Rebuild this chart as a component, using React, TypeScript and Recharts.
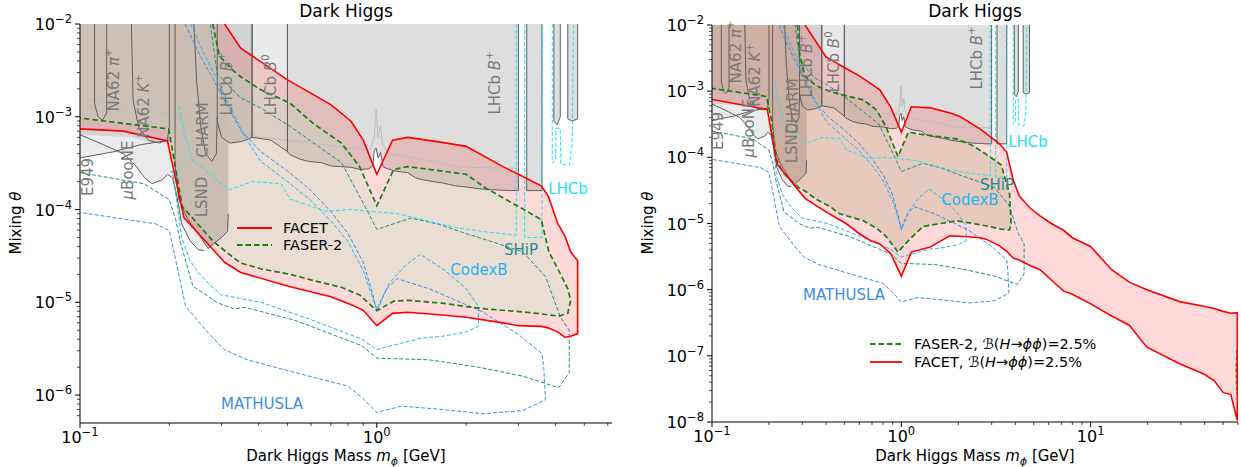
import React from "react";
import { ComposedChart, Area, Line, XAxis, YAxis } from "recharts";

type P = [number, number];
const TOP = 1e-2;
const FONT = "'DejaVu Sans', sans-serif";

// ---------- existing limits (grey), lower edge; each region runs to the top ----------
const LIGHT_X = [0.1, 0.125, 0.14, 0.155, 0.165, 0.175, 0.19, 0.197, 0.205, 0.212, 0.22, 0.235, 0.25, 0.262];
const LIGHT_LO = [3.6e-4, 4.1e-4, 4.0e-4, 2.9e-4, 2.2e-4, 1.9e-4, 2.1e-4, 2.4e-4, 2.2e-4, 1.4e-4, 7e-5, 4.6e-5, 3.7e-5, 3.6e-5];
const NA62_X = [0.1, 0.15, 0.175, 0.2, 0.209];
const NA62_LO = [6.4e-4, 6.0e-4, 5.2e-4, 5.6e-4, 6e-4];
const LSND_X = [0.209, 0.215, 0.23, 0.25, 0.27, 0.28, 0.3, 0.314, 0.316];
const LSND_LO = [3e-4, 1.3e-4, 8e-5, 5.5e-5, 3.8e-5, 4.2e-5, 5e-5, 5.8e-5, 9e-5];
const BLOBE_X = [0.29, 0.3, 0.32, 0.35, 0.38];
const BLOBE_LO = [9e-4, 6e-4, 5.2e-4, 5.4e-4, 6e-4];
const B0_X = [0.38, 0.44, 0.5];
const B0_LO = [6e-4, 5.6e-4, 4.2e-4];
const BPLUS_X = [0.5, 0.51, 0.55, 0.59, 0.65, 0.7, 0.76, 0.82, 0.88, 0.94, 0.97, 0.98, 0.995, 1.01, 1.03, 1.05, 1.07, 1.15, 1.27, 1.35, 1.42, 1.55, 1.66, 1.84, 2.0, 2.2, 2.38, 2.6, 2.8, 3.0];
const BPLUS_LO = [4.2e-4, 3.9e-4, 3.5e-4, 3.3e-4, 3.2e-4, 2.95e-4, 2.9e-4, 2.85e-4, 2.7e-4, 2.75e-4, 3.0e-4, 4.3e-4, 4.6e-4, 3.6e-4, 4.1e-4, 2.9e-4, 2.8e-4, 2.6e-4, 2.5e-4, 2.2e-4, 2.1e-4, 2.0e-4, 1.94e-4, 1.8e-4, 1.75e-4, 1.68e-4, 1.64e-4, 1.62e-4, 1.6e-4, 1.6e-4];
const S1_X = [3.2, 3.6];
const S1_LO = [1.6e-4, 1.6e-4];
const S2_X = [3.95, 4.05, 4.15];
const S2_LO = [9e-4, 8.2e-4, 1e-3];
const S3_X = [4.4, 4.55, 4.75];
const S3_LO = [9.5e-4, 9e-4, 9.5e-4];

// ---------- outlines on the grey ----------
const E949_LINE: P[] = [[0.1, 3.6e-4], [0.13, 4.2e-4], [0.16, 5.0e-4], [0.2, 5.6e-4]];
const UBOONE_LINE: P[] = [[0.1, 6.4e-4], [0.12, 5.0e-4], [0.14, 4.0e-4], [0.155, 2.9e-4], [0.165, 2.2e-4], [0.175, 1.9e-4], [0.19, 2.1e-4], [0.197, 2.4e-4], [0.205, 2.2e-4], [0.212, 1.4e-4], [0.22, 7e-5], [0.235, 4.6e-5], [0.25, 3.7e-5], [0.262, 3.6e-5]];
const NA62PI_LINE: P[] = [[0.112, 1e-2], [0.112, 1.4e-3], [0.115, 1e-3], [0.119, 9.2e-4], [0.123, 1.1e-3], [0.123, 1e-2]];
const NA62K_LINE: P[] = [[0.149, 1e-2], [0.151, 1.5e-3], [0.158, 7.5e-4], [0.17, 5.6e-4], [0.185, 5.2e-4], [0.197, 5.6e-4], [0.2, 8e-4], [0.2, 1e-2]];
const CHARM_LINE: P[] = [[0.242, 1e-2], [0.247, 2.5e-3], [0.255, 8e-4], [0.265, 4e-4], [0.278, 3.3e-4], [0.288, 4e-4], [0.29, 1e-3]];
const FAINT_LINE: P[] = [[0.1, 1.6e-3], [0.2, 1.05e-3], [0.395, 6.1e-4], [0.6, 5.2e-4], [0.82, 4.6e-4], [0.95, 4.4e-4], [0.98, 6e-4], [0.995, 1.2e-3], [1.01, 6e-4], [1.03, 8e-4], [1.045, 5e-4], [1.1, 4e-4], [1.27, 3.7e-4], [1.66, 3.2e-4], [1.84, 2.9e-4], [2.38, 2.8e-4], [2.95, 2.8e-4]];

// ---------- projected reaches (dashed) ----------
const SHIP: P[] = [[0.1, 2.5e-4], [0.164, 1.9e-4], [0.2, 1.28e-4], [0.21, 7.9e-5], [0.218, 4.4e-5], [0.24, 1.5e-5], [0.29, 9.9e-6], [0.33, 8.5e-6], [0.36, 8.8e-6], [0.53, 6.4e-6], [0.89, 3.4e-6], [1.0, 2.5e-6], [1.5, 2.4e-6], [2.2, 2.0e-6], [3.1, 1.6e-6], [4.1, 1.2e-6], [4.45, 1.75e-6], [4.45, 5e-6], [4.15, 7e-6], [3.7, 1.9e-5], [3.1, 3.5e-5], [2.5, 4.4e-5], [2.0, 5.5e-5], [1.6, 7e-5], [1.3, 8.1e-5], [1.0, 6.1e-5], [0.91, 1.1e-4], [0.76, 3.2e-4], [0.51, 7.9e-4], [0.407, 1.24e-3], [0.348, 1.6e-3], [0.29, 2.9e-3], [0.275, 1e-2]];
const CODEXB: P[] = [[0.236, 1e-2], [0.26, 5e-3], [0.29, 2.5e-3], [0.32, 1.3e-3], [0.36, 6e-4], [0.407, 3.3e-4], [0.5, 2e-4], [0.6, 1.25e-4], [0.7, 7.5e-5], [0.8, 4.5e-5], [0.9, 2.2e-5], [0.97, 1.1e-5], [1.0, 8.5e-6], [1.1, 1.6e-5], [1.25, 2.5e-5], [1.4, 3.3e-5], [1.7, 2.2e-5], [2.0, 1.4e-5], [2.2, 9e-6], [2.2, 5.5e-6], [2.0, 4.8e-6], [1.66, 4.3e-6], [1.4, 4.1e-6], [1.2, 3.6e-6], [1.0, 3.1e-6], [0.89, 4e-6], [0.6, 6.5e-6], [0.407, 1e-5], [0.3, 1.2e-5], [0.276, 1.5e-5], [0.25, 2.1e-5], [0.235, 2.8e-5], [0.22, 5e-5], [0.212, 1.2e-4], [0.205, 2.6e-4], [0.2, 2.5e-4]];
const MATHUSLA: P[] = [[0.226, 1e-2], [0.25, 5e-3], [0.28, 2.6e-3], [0.31, 1.4e-3], [0.35, 7e-4], [0.407, 4.2e-4], [0.5, 2.6e-4], [0.6, 1.6e-4], [0.7, 9.5e-5], [0.8, 5.5e-5], [0.9, 2.7e-5], [0.97, 1.2e-5], [1.0, 8e-6], [1.08, 1.4e-5], [1.17, 1.8e-5], [1.5, 1.4e-5], [2.27, 7.9e-6], [3.0, 4.5e-6], [3.6, 2.8e-6], [3.65, 2e-6], [3.7, 8.9e-7], [3.1, 6.8e-7], [2.27, 6.3e-7], [1.66, 7e-7], [1.21, 7.6e-7], [1.0, 6.5e-7], [0.89, 9.4e-7], [0.8, 1.25e-6], [0.53, 1.75e-6], [0.366, 2.4e-6], [0.306, 3.1e-6], [0.27, 4.7e-6], [0.227, 9e-6], [0.2, 5.9e-5], [0.18, 7e-5], [0.1, 9.3e-5]];
const LHCB_A: P[] = [[0.215, 1.3e-3], [0.225, 6.5e-4], [0.239, 3.4e-4], [0.26, 2.8e-4], [0.298, 1.9e-4], [0.32, 1.64e-4], [0.38, 2e-4], [0.476, 1.9e-4], [0.51, 1.3e-4], [0.67, 9.6e-5], [0.82, 1e-4], [0.97, 9.5e-5], [1.18, 9e-5], [1.42, 7.8e-5], [1.84, 6.4e-5], [2.38, 5.7e-5], [2.95, 5.3e-5], [2.95, 1e-2]];
const LHCB_B: P[] = [[3.15, 1e-2], [3.15, 5e-5], [3.6, 5e-5], [3.62, 1e-2]];
const LHCB_C: P[] = [[3.9, 1e-2], [3.9, 3.2e-4], [4.0, 3.4e-4], [4.02, 7.5e-4], [4.15, 7.5e-4], [4.17, 3.1e-4], [4.45, 3.0e-4], [4.55, 5e-4], [4.6, 1e-2]];

// ---------- FACET / FASER-2, left panel ----------
const FACET_L_X = [0.1, 0.14, 0.197, 0.224, 0.307, 0.348, 0.5, 0.7, 0.82, 0.9, 1.0, 1.13, 1.27, 1.66, 2.0, 2.66, 3.0, 3.58, 3.78, 4.06, 4.3, 4.5, 4.75];
const FACET_L_LO = [7.4e-4, 7.0e-4, 5.5e-4, 8.2e-5, 2.7e-5, 2.1e-5, 1.5e-5, 1.15e-5, 9.4e-6, 8.2e-6, 5.6e-6, 7.6e-6, 7.8e-6, 7.3e-6, 6.9e-6, 6.0e-6, 5.6e-6, 5.5e-6, 5.3e-6, 4.8e-6, 4.2e-6, 4.3e-6, 4.6e-6];
const FACET_L_HI = [1e-2, 1e-2, 1e-2, 1e-2, 1e-2, 5.5e-3, 2.5e-3, 1.35e-3, 8.9e-4, 5.6e-4, 2.4e-4, 5.6e-4, 6.0e-4, 5.3e-4, 4.8e-4, 2.9e-4, 2.4e-4, 1.8e-4, 1.4e-4, 7.2e-5, 5.2e-5, 3.5e-5, 2.8e-5];
const FASER_L_X = [0.1, 0.199, 0.221, 0.28, 0.295, 0.33, 0.348, 0.407, 0.51, 0.61, 0.76, 0.875, 1.0, 1.14, 1.27, 1.66, 2.0, 2.33, 3.2, 3.58, 3.8, 4.1, 4.4, 4.5];
const FASER_L_LO = [9.7e-4, 7.4e-4, 1.08e-4, 4.6e-5, 4.0e-5, 3.0e-5, 2.65e-5, 2.3e-5, 2.0e-5, 1.72e-5, 1.45e-5, 1.2e-5, 8.1e-6, 1.03e-5, 1.05e-5, 9.8e-6, 9.0e-6, 8.5e-6, 7.8e-6, 7.5e-6, 7.3e-6, 7.1e-6, 7.6e-6, 1.05e-5];
const FASER_L_HI = [1e-2, 1e-2, 1e-2, 1e-2, 4.5e-3, 3.1e-3, 2.7e-3, 1.95e-3, 1.4e-3, 8.5e-4, 5.2e-4, 2.9e-4, 1.1e-4, 2.7e-4, 2.9e-4, 2.6e-4, 2.4e-4, 1.7e-4, 9.6e-5, 7.8e-5, 3.5e-5, 2.2e-5, 1.4e-5, 1.05e-5];

// ---------- FACET / FASER-2, right panel, B(H->phi phi)=2.5% ----------
const FACET_R_X = [0.1, 0.196, 0.22, 0.31, 0.4, 0.51, 0.6, 0.69, 0.77, 0.88, 1.0, 1.13, 1.42, 1.8, 2.05, 2.6, 2.8, 3.3, 3.6, 3.9, 4.2, 4.8, 5.4, 6.2, 7.2, 8.0, 10, 12.9, 16, 19.8, 29.5, 39.6, 45, 50, 55, 59.5];
const FACET_R_LO = [7.5e-4, 5.3e-4, 8e-5, 2.4e-5, 1.5e-5, 1.0e-5, 7e-6, 5.5e-6, 4.9e-6, 3.5e-6, 1.6e-6, 3.7e-6, 4.4e-6, 6.5e-6, 6.4e-6, 6.1e-6, 5.8e-6, 4.6e-6, 3.8e-6, 3.0e-6, 2.8e-6, 2.3e-6, 2.0e-6, 1.4e-6, 9.5e-7, 8.5e-7, 6.1e-7, 4.0e-7, 2.9e-7, 1.35e-7, 7.6e-8, 5.3e-8, 4.2e-8, 2.8e-8, 2.6e-8, 1.05e-8];
const FACET_R_HI = [1e-2, 1e-2, 1e-2, 1e-2, 3.3e-3, 2.2e-3, 1.7e-3, 1.3e-3, 1.05e-3, 5.7e-4, 2.4e-4, 5.8e-4, 5.6e-4, 4.7e-4, 4.1e-4, 2.7e-4, 2.3e-4, 1.6e-4, 1.2e-4, 4.5e-5, 2.6e-5, 1.7e-5, 1.3e-5, 1.0e-5, 7.9e-6, 6.1e-6, 4.5e-6, 2.0e-6, 1.3e-6, 1.0e-6, 6.6e-7, 5.6e-7, 5.2e-7, 4.7e-7, 4.4e-7, 4.5e-7];
const FASER_R_X = [0.1, 0.194, 0.206, 0.219, 0.238, 0.283, 0.29, 0.31, 0.357, 0.42, 0.473, 0.63, 0.74, 0.83, 0.96, 1.09, 1.3, 1.96, 2.39, 2.92, 3.37, 3.73, 3.8];
const FASER_R_LO = [1.1e-3, 8.3e-4, 3.7e-4, 9.2e-5, 5.8e-5, 3.6e-5, 3.4e-5, 3.1e-5, 2.3e-5, 1.8e-5, 1.4e-5, 1.1e-5, 8.5e-6, 6.4e-6, 3.7e-6, 5.5e-6, 9e-6, 1.1e-5, 1.0e-5, 9e-6, 8.2e-6, 8e-6, 1.0e-5];
const FASER_R_HI = [1e-2, 1e-2, 1e-2, 1e-2, 1e-2, 1e-2, 3.7e-3, 1.66e-3, 1.2e-3, 9.9e-4, 9e-4, 7.4e-4, 5.2e-4, 2.9e-4, 1.03e-4, 2.4e-4, 2.2e-4, 1.9e-4, 1.5e-4, 1.03e-4, 7.7e-5, 2.8e-5, 1.0e-5];
const FASER_R_TAIL: P[] = [[59.3, 1.2e-7], [58.8, 6e-8], [59.3, 2.7e-8]];

// ---------- ticks ----------
const MANT = [1, 2, 3, 4, 5, 6, 7, 8, 9];
const logTicks = (lo: number, hi: number) => {
  const out: number[] = [];
  for (let e = Math.floor(Math.log10(lo)); e <= Math.ceil(Math.log10(hi)); e++)
    for (const m of MANT) {
      const v = m * Math.pow(10, e);
      if (v >= lo * 0.999 && v <= hi * 1.001) out.push(v);
    }
  return out;
};
const X_TICKS_L = logTicks(0.1, 6.2);
const X_TICKS_R = logTicks(0.1, 60);
const Y_TICKS_L = logTicks(6e-7, 1e-2);
const Y_TICKS_R = logTicks(1e-8, 1e-2);

// ---------- helpers ----------
const band = (xs: number[], lo: number[], hi?: number[]) => xs.map((x, i) => ({ x, r: [lo[i], hi ? hi[i] : TOP] }));
const pts = (p: P[]) => p.map(([x, y]) => ({ x, y }));
const edge = (xs: number[], lo: number[], left = true, right = true) => {
  const out = xs.map((x, i) => ({ x, y: lo[i] }));
  if (left) out.unshift({ x: xs[0], y: TOP });
  if (right) out.push({ x: xs[xs.length - 1], y: TOP });
  return out;
};
const ring = (xs: number[], lo: number[], hi: number[]) => {
  const up: { x: number; y: number }[] = [];
  xs.forEach((x, i) => {
    if (hi[i] < TOP || (i + 1 < xs.length && hi[i + 1] < TOP)) up.push({ x, y: hi[i] });
  });
  const down = xs.map((x, i) => ({ x, y: lo[i] })).reverse();
  return [...up, ...down];
};
const isMajor = (v: number) => Math.abs(Math.log10(v) - Math.round(Math.log10(v))) < 1e-6;
const expo = (v: number) => {
  const e = Math.round(Math.log10(v));
  return e < 0 ? "\u2212" + -e : String(e);
};

const XTick = (props: any) => {
  const { x, y, payload } = props;
  const major = isMajor(payload.value);
  return (
    <g>
      <line x1={x} x2={x} y1={y} y2={y + (major ? 5 : 3)} stroke="#000" strokeWidth={major ? 1 : 0.7} />
      {major && (
        <text x={x} y={y + 20} textAnchor="middle" fontSize={16} fontFamily={FONT} fill="#000">
          10<tspan dy={-7} fontSize={11.5}>{expo(payload.value)}</tspan>
        </text>
      )}
    </g>
  );
};
const YTick = (props: any) => {
  const { x, y, payload } = props;
  const major = isMajor(payload.value);
  return (
    <g>
      <line x1={x} x2={x - (major ? 5 : 3)} y1={y} y2={y} stroke="#000" strokeWidth={major ? 1 : 0.7} />
      {major && (
        <text x={x - 8} y={y + 6} textAnchor="end" fontSize={16} fontFamily={FONT} fill="#000">
          10<tspan dy={-7} fontSize={11.5}>{expo(payload.value)}</tspan>
        </text>
      )}
    </g>
  );
};

const GREY_FILLS: [number[], number[], string][] = [
  [LIGHT_X, LIGHT_LO, "#ebebeb"],
  [BLOBE_X, BLOBE_LO, "#d2d2d2"],
  [B0_X, B0_LO, "#eaeaea"],
  [BPLUS_X, BPLUS_LO, "#dedede"],
  [S1_X, S1_LO, "#dedede"],
  [S2_X, S2_LO, "#dedede"],
  [S3_X, S3_LO, "#dedede"],
  [NA62_X, NA62_LO, "#d4d4d4"],
  [LSND_X, LSND_LO, "#cfcfcf"],
];
const greyFills = GREY_FILLS.map(([xs, lo, c], i) => (
  <Area key={"gf" + i} data={band(xs, lo)} dataKey="r" type="linear" stroke="none" fill={c} fillOpacity={1} isAnimationActive={false} />
));

const GREY_LINES = [
  pts(E949_LINE), pts(UBOONE_LINE), pts(NA62PI_LINE), pts(NA62K_LINE), pts(CHARM_LINE),
  edge(LSND_X, LSND_LO, true, false), edge(BLOBE_X, BLOBE_LO), edge(B0_X, B0_LO), edge(BPLUS_X, BPLUS_LO),
  edge(S1_X, S1_LO), edge(S2_X, S2_LO), edge(S3_X, S3_LO),
];
const greyLines = [
  <Line key="faint" data={pts(FAINT_LINE)} dataKey="y" type="linear" stroke="#bdbdbd" strokeWidth={1} dot={false} activeDot={false} isAnimationActive={false} />,
  ...GREY_LINES.map((d, i) => (
    <Line key={"gl" + i} data={d} dataKey="y" type="linear" stroke="#5e5e5e" strokeWidth={1} dot={false} activeDot={false} isAnimationActive={false} />
  )),
];

const PROJ: [P[], string][] = [
  [SHIP, "#1b8f8f"],
  [CODEXB, "#27b4f0"],
  [MATHUSLA, "#3a8fe6"],
  [LHCB_A, "#22e3f2"],
  [LHCB_B, "#22e3f2"],
  [LHCB_C, "#22e3f2"],
];
const projLines = PROJ.map(([d, c], i) => (
  <Line key={"pj" + i} data={pts(d)} dataKey="y" type="linear" stroke={c} strokeWidth={1} strokeDasharray="4 2" dot={false} activeDot={false} isAnimationActive={false} />
));

type Band = { x: number[]; lo: number[]; hi: number[] };

function Panel(props: {
  width: number; yW: number; xH: number; top: number; right: number;
  xDom: [number, number]; yDom: [number, number]; xTicks: number[]; yTicks: number[];
  facet: Band; faser: Band; faserColor: string; faserOpacity: number; extra?: React.ReactNode; overlay: React.ReactNode;
}) {
  const { width, yW, xH, top, right, xDom, yDom, xTicks, yTicks, facet, faser } = props;
  return (
    <div style={{ position: "relative", width, height: 467 }}>
      <ComposedChart width={width} height={467} margin={{ top, right, bottom: 0, left: 0 }}>
        <XAxis dataKey="x" type="number" scale="log" domain={xDom} allowDataOverflow ticks={xTicks} interval={0}
          tick={<XTick />} tickLine={false} tickSize={0} tickMargin={0} height={xH} axisLine={{ stroke: "#000" }} />
        <YAxis type="number" scale="log" domain={yDom} allowDataOverflow ticks={yTicks} interval={0}
          tick={<YTick />} tickLine={false} tickSize={0} tickMargin={0} width={yW} axisLine={{ stroke: "#000" }} />
        <XAxis xAxisId="top" orientation="top" type="number" domain={[0, 1]} height={0} tick={false} tickLine={false} axisLine={{ stroke: "#000" }} />
        <YAxis yAxisId="right" orientation="right" type="number" domain={[0, 1]} width={0} tick={false} tickLine={false} axisLine={{ stroke: "#000" }} />
        {greyFills}
        <Area data={band(facet.x, facet.lo, facet.hi)} dataKey="r" type="linear" stroke="none" fill="#ff0000" fillOpacity={0.15} isAnimationActive={false} />
        <Area data={band(faser.x, faser.lo, faser.hi)} dataKey="r" type="linear" stroke="none" fill={props.faserColor} fillOpacity={props.faserOpacity} isAnimationActive={false} />
        {greyLines}
        {projLines}
        {props.extra}
        <Line data={ring(faser.x, faser.lo, faser.hi)} dataKey="y" type="linear" stroke="#1c7d12" strokeWidth={1.7} strokeDasharray="5.5 3" dot={false} activeDot={false} isAnimationActive={false} />
        <Line data={ring(facet.x, facet.lo, facet.hi)} dataKey="y" type="linear" stroke="#ff0000" strokeWidth={1.6} dot={false} activeDot={false} isAnimationActive={false} />
      </ComposedChart>
      <svg width={width} height={467} style={{ position: "absolute", left: 0, top: 0, pointerEvents: "none", fontFamily: FONT }}>
        {props.overlay}
      </svg>
    </div>
  );
}

const V = (p: { x: number; y: number; c?: string; children: React.ReactNode }) => (
  <text transform={`translate(${p.x},${p.y}) rotate(-90)`} textAnchor="middle" dominantBaseline="central" fontSize={15} fill={p.c || "#7a7a7a"}>
    {p.children}
  </text>
);
const Sup = (p: { children: React.ReactNode }) => <tspan dy={-6} fontSize={10}>{p.children}</tspan>;
const It = (p: { children: React.ReactNode }) => <tspan fontStyle="italic">{p.children}</tspan>;

const XLabel = ({ x }: { x: number }) => (
  <text x={x} y={461} textAnchor="middle" fontSize={15} fill="#000">
    Dark Higgs Mass <It>m</It><tspan dy={4} fontSize={11} fontStyle="italic">ϕ</tspan><tspan dy={-4}> [GeV]</tspan>
  </text>
);
const YLabel = ({ x }: { x: number }) => (
  <text transform={`translate(${x},223) rotate(-90)`} textAnchor="middle" fontSize={15} fill="#000">
    Mixing <It>θ</It>
  </text>
);
const Title = ({ x }: { x: number }) => (
  <text x={x} y={17} textAnchor="middle" fontSize={17} fill="#000">Dark Higgs</text>
);
const BR = () => (
  <>
    , ℬ(<It>H</It>→<It>ϕϕ</It>)=2.5%
  </>
);

export default function App() {
  const leftOverlay = (
    <>
      <Title x={346} />
      <XLabel x={346} />
      <YLabel x={21} />
      <V x={88} y={177}>E949</V>
      <V x={128} y={170}><It>μ</It>BooNE</V>
      <V x={114} y={80}>NA62 <It>π</It><Sup>+</Sup></V>
      <V x={144} y={106}>NA62 <It>K</It><Sup>+</Sup></V>
      <V x={202} y={197}>LSND</V>
      <V x={203} y={130}>CHARM</V>
      <V x={227} y={84}>LHCb <It>B</It><Sup>+</Sup></V>
      <V x={271} y={85}>LHCb <It>B</It><Sup>0</Sup></V>
      <V x={495} y={83}>LHCb <It>B</It><Sup>+</Sup></V>
      <text x={568} y={194} textAnchor="middle" fontSize={15} fill="#22e3f2">LHCb</text>
      <text x={521} y={255} textAnchor="middle" fontSize={15} fill="#1b8f8f">SHiP</text>
      <text x={479} y={275} textAnchor="middle" fontSize={15} fill="#27b4f0">CodexB</text>
      <text x={262} y={409} textAnchor="middle" fontSize={15} fill="#3a8fe6">MATHUSLA</text>
      <line x1={237} x2={272} y1={228} y2={228} stroke="#ff0000" strokeWidth={1.8} />
      <text x={283} y={233} fontSize={14.5} fill="#000">FACET</text>
      <line x1={237} x2={272} y1={245} y2={245} stroke="#1c7d12" strokeWidth={1.8} strokeDasharray="5.5 3" />
      <text x={283} y={250} fontSize={14.5} fill="#000">FASER-2</text>
    </>
  );
  const rightOverlay = (
    <>
      <Title x={355} />
      <XLabel x={355} />
      <YLabel x={33} />
      <V x={98} y={131}>E949</V>
      <V x={129} y={128}><It>μ</It>BooNE</V>
      <V x={116} y={52}>NA62 <It>π</It><Sup>+</Sup></V>
      <V x={135} y={75}>NA62 <It>K</It><Sup>+</Sup></V>
      <V x={172} y={143}>LSND</V>
      <V x={173} y={106}>CHARM</V>
      <V x={187} y={66}>LHCb <It>B</It><Sup>+</Sup></V>
      <V x={214} y={62}>LHCb <It>B</It><Sup>0</Sup></V>
      <V x={357} y={58}>LHCb <It>B</It><Sup>+</Sup></V>
      <text x={408} y={147} textAnchor="middle" fontSize={15} fill="#22e3f2">LHCb</text>
      <text x={377} y={190} textAnchor="middle" fontSize={15} fill="#1b8f8f">SHiP</text>
      <text x={350} y={205} textAnchor="middle" fontSize={15} fill="#27b4f0">CodexB</text>
      <text x={224} y={300} textAnchor="middle" fontSize={15} fill="#3a8fe6">MATHUSLA</text>
      <line x1={250} x2={282} y1={344} y2={344} stroke="#1c7d12" strokeWidth={1.8} strokeDasharray="5.5 3" />
      <text x={294} y={349} fontSize={14.5} fill="#000">FASER-2<BR /></text>
      <line x1={250} x2={282} y1={362} y2={362} stroke="#ff0000" strokeWidth={1.8} />
      <text x={294} y={367} fontSize={14.5} fill="#000">FACET<BR /></text>
    </>
  );
  return (
    <div style={{ position: "absolute", left: 0, top: 0, width: 1241, height: 467, background: "#fff", fontFamily: FONT }}>
      <div style={{ position: "absolute", left: 0, top: 0 }}>
        <Panel width={620} yW={80} xH={44} top={24} right={8} xDom={[0.1, 6.2]} yDom={[5e-7, 1e-2]}
          xTicks={X_TICKS_L} yTicks={Y_TICKS_L}
          facet={{ x: FACET_L_X, lo: FACET_L_LO, hi: FACET_L_HI }}
          faser={{ x: FASER_L_X, lo: FASER_L_LO, hi: FASER_L_HI }}
          faserColor="#a0ecc4" faserOpacity={0.22} overlay={leftOverlay} />
      </div>
      <div style={{ position: "absolute", left: 620, top: 0 }}>
        <Panel width={621} yW={92} xH={45} top={25} right={3} xDom={[0.1, 60]} yDom={[1e-8, 1e-2]}
          xTicks={X_TICKS_R} yTicks={Y_TICKS_R}
          facet={{ x: FACET_R_X, lo: FACET_R_LO, hi: FACET_R_HI }}
          faser={{ x: FASER_R_X, lo: FASER_R_LO, hi: FASER_R_HI }}
          faserColor="#b8a888" faserOpacity={0.35}
          extra={<Line data={pts(FASER_R_TAIL)} dataKey="y" type="linear" stroke="#1c7d12" strokeWidth={1.7} strokeDasharray="4 2" dot={false} activeDot={false} isAnimationActive={false} />}
          overlay={rightOverlay} />
      </div>
    </div>
  );
}
